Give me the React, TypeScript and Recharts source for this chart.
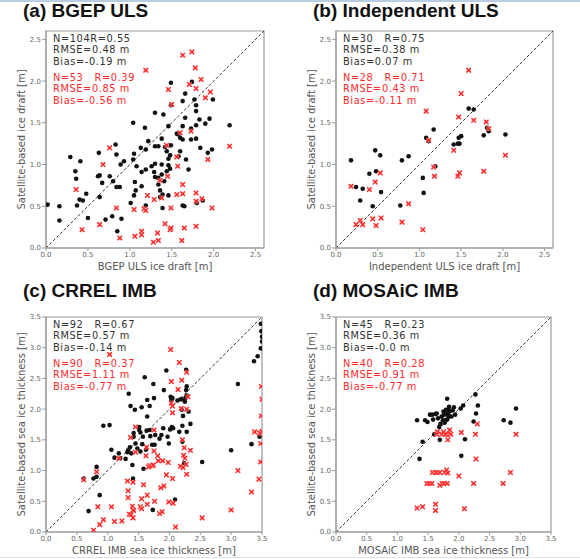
import React from 'react';
import { ScatterChart, Scatter, XAxis, YAxis, ReferenceLine, ReferenceArea } from 'recharts';

type P = [number, number];

// (a) BGEP ULS
const bgepBlack: P[] = [
  [0.02,0.52],[0.16,0.5],[0.16,0.33],[0.29,1.09],[0.35,0.92],[0.36,0.83],[0.37,0.51],[0.41,1.04],[0.4,0.58],[0.44,0.57],
  [0.48,0.65],[0.5,0.36],[0.63,1.14],[0.62,0.86],[0.64,0.87],[0.64,0.61],[0.67,0.78],[0.71,0.34],[0.76,0.86],[0.8,0.8],
  [0.79,0.38],[0.83,1.24],[0.84,1.12],[0.84,0.73],[0.88,0.73],[0.89,1.0],[0.9,0.35],[0.85,0.2],[0.93,1.04],[1.04,1.5],
  [1.04,1.06],[1.05,1.13],[1.01,0.54],[1.06,0.79],[1.07,0.69],[1.05,0.63],[1.08,0.98],[1.13,1.2],[1.14,0.91],[1.14,0.74],
  [1.18,1.44],[1.19,1.18],[1.19,0.94],[1.19,0.51],[1.22,1.28],[1.26,0.98],[1.29,0.91],[1.3,1.62],[1.3,1.22],[1.3,1.01],
  [1.3,0.85],[1.34,0.84],[1.34,0.76],[1.34,1.22],[1.36,0.69],[1.36,0.61],[1.39,0.64],[1.4,1.6],[1.38,1.31],[1.38,1.0],
  [1.38,0.88],[1.39,0.48],[1.41,0.8],[1.42,1.21],[1.44,1.16],[1.44,0.92],[1.46,1.07],[1.46,0.99],[1.46,0.63],[1.46,1.46],
  [1.49,1.98],[1.49,1.71],[1.48,1.11],[1.49,1.23],[1.48,0.95],[1.56,1.37],[1.58,1.36],[1.58,1.1],[1.6,1.16],[1.6,1.32],
  [1.63,1.76],[1.63,1.46],[1.63,1.3],[1.63,0.51],[1.65,0.5],[1.66,1.56],[1.66,1.85],[1.67,1.06],[1.7,0.94],[1.73,1.43],
  [1.73,1.3],[1.74,1.99],[1.77,1.78],[1.79,1.64],[1.79,1.71],[1.79,1.31],[1.8,0.54],[1.79,1.47],[1.83,1.54],[1.84,1.2],
  [1.87,0.57],[1.9,1.49],[1.93,1.14],[1.95,1.55],[1.98,1.18],[1.99,1.78],[2.19,1.47]
];
const bgepRed: P[] = [
  [0.36,0.7],[0.43,0.22],[0.64,0.28],[0.68,1.0],[0.76,1.2],[0.84,0.48],[0.88,0.12],[1.05,0.46],[1.06,0.14],[1.14,0.2],
  [1.14,0.16],[1.17,0.47],[1.19,0.45],[1.19,2.13],[1.21,0.63],[1.28,0.07],[1.29,0.58],[1.33,0.18],[1.34,0.09],[1.36,0.81],
  [1.38,0.6],[1.42,0.29],[1.44,1.23],[1.45,0.86],[1.46,1.9],[1.48,0.22],[1.49,0.24],[1.49,0.48],[1.5,1.72],[1.56,0.64],
  [1.57,0.98],[1.56,1.09],[1.6,1.38],[1.62,0.09],[1.63,0.76],[1.63,0.65],[1.63,2.31],[1.65,0.24],[1.71,1.96],[1.73,1.4],
  [1.74,2.35],[1.78,2.16],[1.79,1.91],[1.79,0.66],[1.79,0.56],[1.79,0.26],[1.85,2.02],[1.86,0.59],[1.9,1.8],[1.96,1.87],
  [1.93,1.06],[1.98,0.48],[2.19,1.22]
];

// (b) Independent ULS
const indepBlack: P[] = [
  [0.18,1.05],[0.24,0.73],[0.29,0.57],[0.32,0.71],[0.4,0.89],[0.44,0.5],[0.47,1.17],[0.48,0.92],[0.53,1.11],[0.54,0.67],
  [0.77,0.51],[0.79,1.05],[0.87,1.1],[1.04,0.84],[1.05,0.66],[1.08,1.32],[1.11,1.28],[1.17,1.42],[1.19,0.98],[1.41,1.24],
  [1.46,1.25],[1.48,1.25],[1.47,1.32],[1.5,1.34],[1.59,1.67],[1.65,1.66],[1.77,1.35],[1.81,1.44],[1.83,1.4],[2.03,1.36]
];
const indepRed: P[] = [
  [0.18,0.74],[0.24,0.28],[0.29,0.33],[0.32,0.28],[0.4,0.7],[0.44,0.35],[0.47,0.79],[0.48,0.27],[0.53,0.9],[0.54,0.36],
  [0.79,0.31],[0.87,0.53],[1.04,0.22],[1.08,1.64],[1.11,1.29],[1.17,0.97],[1.18,0.86],[1.41,1.17],[1.47,1.57],[1.46,0.86],
  [1.48,0.9],[1.5,1.85],[1.59,2.13],[1.65,1.53],[1.77,0.92],[1.8,1.51],[1.83,1.43],[2.03,1.11]
];

// (c) CRREL IMB
const crrelBlack: P[] = [
  [0.61,0.87],[0.69,0.34],[0.77,0.87],[0.82,1.06],[0.82,0.9],[0.87,0.6],[0.93,1.73],[1.03,1.74],[1.06,1.34],[1.11,1.21],
  [1.18,1.28],[1.2,1.2],[1.29,1.19],[1.32,1.3],[1.34,2.25],[1.33,1.33],[1.36,1.38],[1.37,2.05],[1.38,1.28],[1.4,1.09],
  [1.41,0.87],[1.42,1.61],[1.42,1.55],[1.44,1.99],[1.45,1.44],[1.51,1.71],[1.51,1.66],[1.53,1.62],[1.55,2.03],[1.57,1.55],
  [1.56,1.43],[1.58,1.03],[1.6,2.52],[1.62,1.34],[1.63,1.65],[1.64,2.15],[1.64,1.88],[1.68,2.05],[1.68,1.66],[1.69,1.56],
  [1.72,1.42],[1.73,0.36],[1.74,2.41],[1.75,2.18],[1.76,1.42],[1.84,1.52],[1.87,1.58],[1.9,1.69],[1.91,2.31],[1.95,2.63],
  [1.99,1.44],[2.01,1.67],[2.02,2.2],[2.03,2.15],[2.04,1.71],[2.06,1.69],[2.05,2.18],[2.09,0.53],[2.13,2.14],[2.16,1.63],
  [2.18,2.16],[2.2,1.99],[2.21,1.47],[2.2,2.16],[2.22,1.89],[2.24,1.12],[2.26,2.18],[2.27,2.64],[2.28,2.37],[2.27,2.31],
  [2.28,1.63],[2.28,2.22],[2.31,1.96],[2.34,1.76],[2.53,1.14],[3.0,1.33],[3.11,2.41],[3.33,1.43],[3.37,2.78],[3.43,2.86],
  [3.46,1.55],[3.48,2.99],[3.48,3.39],[3.49,3.27],[3.5,3.18],[3.5,3.1],[2.21,1.73],[1.48,1.36],[1.53,1.31],[1.77,1.58],
  [1.97,1.55],[2.25,2.12]
];
const crrelRed: P[] = [
  [0.61,0.85],[0.77,0.03],[0.82,0.98],[0.84,0.41],[0.87,0.12],[0.93,0.2],[1.03,2.89],[1.06,0.41],[1.11,0.17],[1.18,1.2],
  [1.23,0.18],[1.32,0.83],[1.33,0.67],[1.33,0.56],[1.35,0.29],[1.37,1.54],[1.38,0.28],[1.41,0.81],[1.4,0.42],[1.41,0.36],
  [1.41,0.23],[1.42,0.35],[1.45,1.71],[1.45,1.3],[1.53,0.41],[1.55,0.54],[1.55,0.38],[1.58,0.77],[1.62,1.24],[1.63,1.38],
  [1.64,0.6],[1.64,0.45],[1.66,1.06],[1.68,1.08],[1.72,1.08],[1.74,1.09],[1.75,1.66],[1.76,0.5],[1.75,1.32],[1.81,1.24],
  [1.82,1.16],[1.86,0.72],[1.84,0.3],[1.88,0.33],[1.89,1.16],[1.91,0.75],[1.95,0.93],[1.98,1.13],[1.99,0.49],[2.02,2.97],
  [2.03,2.45],[2.03,2.1],[2.05,2.05],[2.05,1.94],[2.05,0.87],[2.06,0.47],[2.1,0.08],[2.14,2.32],[2.16,2.76],[2.18,1.07],
  [2.19,2.01],[2.2,2.47],[2.21,1.5],[2.23,1.25],[2.22,1.05],[2.24,1.37],[2.25,1.2],[2.27,1.1],[2.28,2.6],[2.28,2.0],
  [2.28,0.94],[2.3,2.2],[2.34,1.33],[2.53,0.23],[3.0,0.36],[3.11,1.0],[3.33,0.65],[3.38,1.63],[3.45,0.86],[3.46,1.61],
  [3.48,1.61],[3.48,1.44],[3.48,1.14],[3.49,2.37],[3.5,2.16],[3.49,1.89],[3.5,1.64]
];

// (d) MOSAiC IMB
const mosaicBlack: P[] = [
  [1.32,1.82],[1.36,1.19],[1.41,1.47],[1.45,1.82],[1.49,1.79],[1.53,1.91],[1.57,1.91],[1.6,1.59],[1.62,1.92],[1.64,1.93],
  [1.66,1.85],[1.68,1.71],[1.69,1.5],[1.72,1.88],[1.74,1.82],[1.75,1.96],[1.76,1.91],[1.77,1.78],[1.79,1.99],[1.8,1.93],
  [1.81,1.83],[1.83,1.91],[1.81,2.17],[1.84,2.04],[1.86,1.97],[1.9,1.98],[1.94,1.91],[1.92,2.03],[1.83,1.99],[1.83,1.88],
  [2.03,2.01],[2.04,1.24],[2.07,2.06],[2.1,1.51],[2.24,1.8],[2.27,2.24],[2.28,1.93],[2.31,2.06],[2.73,1.82],[2.84,1.78],
  [2.93,2.01],[1.78,1.82],[1.7,1.76],[1.88,1.88],[1.58,1.83]
];
const mosaicRed: P[] = [
  [1.32,0.39],[1.41,0.41],[1.62,0.45],[1.62,0.35],[2.09,0.38],[1.48,0.79],[1.52,0.79],[1.56,0.79],[1.57,0.97],[1.62,0.97],
  [1.65,0.97],[1.69,0.97],[1.69,0.76],[1.73,0.79],[1.76,0.79],[1.77,0.97],[1.8,1.01],[1.81,0.79],[1.82,0.96],[2.0,0.91],
  [2.24,0.79],[2.72,0.79],[2.84,0.97],[2.28,1.19],[1.65,1.63],[1.72,1.59],[1.75,1.63],[1.79,1.59],[1.82,1.59],[1.82,1.5],
  [1.85,1.66],[1.87,1.59],[2.04,1.62],[2.27,1.59],[2.3,1.76],[2.93,1.59],[1.64,1.59],[1.78,1.59]
];

const ticksSmall = [0, 0.5, 1.0, 1.5, 2.0, 2.5];
const ticksLarge = [0, 0.5, 1.0, 1.5, 2.0, 2.5, 3.0, 3.5];

const titles = ['(a) BGEP ULS', '(b) Independent ULS', '(c) CRREL IMB', '(d) MOSAiC IMB'];
const xLabels = ['BGEP ULS ice draft [m]', 'Independent ULS ice draft [m]', 'CRREL IMB sea ice thickness [m]', 'MOSAiC IMB sea ice thickness [m]'];
const yLabels = ['Satellite-based ice draft [m]', 'Satellite-based ice draft [m]', 'Satellite-based sea ice thickness [m]', 'Satellite-based sea ice thickness [m]'];
const statsBlack = [
  ['N=104R=0.55', 'RMSE=0.48 m', 'Bias=-0.19 m'],
  ['N=30   R=0.75', 'RMSE=0.38 m', 'Bias=0.07 m'],
  ['N=92   R=0.67', 'RMSE=0.57 m', 'Bias=-0.14 m'],
  ['N=45   R=0.23', 'RMSE=0.36 m', 'Bias=-0.0 m'],
];
const statsRed = [
  ['N=53   R=0.39', 'RMSE=0.85 m', 'Bias=-0.56 m'],
  ['N=28   R=0.71', 'RMSE=0.43 m', 'Bias=-0.11 m'],
  ['N=90   R=0.37', 'RMSE=1.11 m', 'Bias=-0.77 m'],
  ['N=40   R=0.28', 'RMSE=0.91 m', 'Bias=-0.77 m'],
];

const toObj = (arr: P[]) => arr.map(([x, y]) => ({ x, y }));

const Dot = (props: any) => {
  const { cx, cy } = props;
  if (cx == null || cy == null) return null;
  return <circle cx={cx} cy={cy} r={2.3} fill="#111" />;
};

const Cross = (props: any) => {
  const { cx, cy } = props;
  if (cx == null || cy == null) return null;
  const s = 2.3;
  return (
    <g>
      <rect x={cx - s} y={cy - s} width={2 * s} height={2 * s} fill="#ffc0c0" opacity={0.6} />
      <line x1={cx - s} y1={cy - s} x2={cx + s} y2={cy + s} stroke="#ff2020" strokeWidth={1.3} />
      <line x1={cx - s} y1={cy + s} x2={cx + s} y2={cy - s} stroke="#ff2020" strokeWidth={1.3} />
    </g>
  );
};

const tickStyle = { fontSize: 7, fill: '#666', fontFamily: 'DejaVu Sans' };

interface PanelProps {
  left: number; top: number; max: number; ticks: number[];
  black: P[]; red: P[]; mTop: number; mRight: number; mBottom: number;
}

const Panel = ({ left, top, max, ticks, black, red, mTop, mRight, mBottom }: PanelProps) => (
  <div style={{ position: 'absolute', left, top }}>
    <ScatterChart width={290} height={280} margin={{ top: mTop, right: mRight, bottom: mBottom, left: 16 }}>
      <XAxis type="number" dataKey="x" domain={[0, max]} ticks={ticks} allowDataOverflow
        tickFormatter={(v: number) => v.toFixed(1)} tick={tickStyle} tickSize={3} tickMargin={1}
        stroke="#999" height={25} interval={0} />
      <YAxis type="number" dataKey="y" domain={[0, max]} ticks={ticks} allowDataOverflow
        tickFormatter={(v: number) => v.toFixed(1)} tick={tickStyle} tickSize={4} tickMargin={1}
        stroke="#999" width={30} interval={0} />
      <ReferenceArea x1={0} x2={max} y1={0} y2={max} fill="none" stroke="#999" strokeWidth={1.2} ifOverflow="visible" />
      <ReferenceLine segment={[{ x: 0, y: 0 }, { x: max, y: max }]} stroke="#333" strokeDasharray="3 2" strokeWidth={1} />
      <Scatter data={toObj(black)} shape={<Dot />} isAnimationActive={false} />
      <Scatter data={toObj(red)} shape={<Cross />} isAnimationActive={false} />
    </ScatterChart>
  </div>
);

const panelPos = [
  { left: 0, top: 0, plotL: 46, plotR: 264, plotT: 31, plotB: 248 },
  { left: 290, top: 0, plotL: 336, plotR: 553, plotT: 31, plotB: 248 },
  { left: 0, top: 280, plotL: 46, plotR: 262, plotT: 317, plotB: 532 },
  { left: 290, top: 280, plotL: 336, plotR: 551, plotT: 317, plotB: 532 },
];

export default function App() {
  const data = [
    [bgepBlack, bgepRed], [indepBlack, indepRed], [crrelBlack, crrelRed], [mosaicBlack, mosaicRed],
  ];
  return (
    <div style={{ position: 'fixed', left: 0, top: 0, width: 580, height: 559, background: '#fff', overflow: 'hidden' }}>
      <div style={{ position: 'absolute', left: 0, top: 0, width: 580, height: 2, background: '#b9cde2' }} />
      <div style={{ position: 'absolute', left: 0, top: 557, width: 580, height: 1, background: '#dde3ea' }} />
      {panelPos.map((p, i) => (
        <Panel key={i} left={p.left} top={p.top} max={i < 2 ? 2.6 : 3.5} ticks={i < 2 ? ticksSmall : ticksLarge}
          black={data[i][0]} red={data[i][1]}
          mTop={p.plotT - p.top} mRight={p.left + 290 - p.plotR} mBottom={p.top + 280 - p.plotB - 25} />
      ))}
      <svg width={580} height={559} style={{ position: 'absolute', left: 0, top: 0, pointerEvents: 'none' }}>
        {panelPos.map((p, i) => {
          const cx = (p.plotL + p.plotR) / 2;
          const cy = (p.plotT + p.plotB) / 2;
          const tx = p.plotL + 7;
          const base = p.plotT + 10.5;
          return (
            <g key={i}>
              <text x={p.left + 23} y={p.top + 17} fontFamily="Liberation Sans, Arial" fontWeight="bold" fontSize={19} fill="#111">{titles[i]}</text>
              <text x={cx} y={p.plotB + 22} textAnchor="middle" fontFamily="DejaVu Sans" fontSize={10} fill="#555">{xLabels[i]}</text>
              <text transform={`translate(${p.left + 25},${cy}) rotate(-90)`} textAnchor="middle" fontFamily="DejaVu Sans" fontSize={10} fill="#555">{yLabels[i]}</text>
              {statsBlack[i].map((s, j) => (
                <text key={'b' + j} x={tx} y={base + j * 11.5} fontFamily="DejaVu Sans" fontSize={9.8} letterSpacing={0.6} fill="#333" style={{ whiteSpace: 'pre' }}>{s}</text>
              ))}
              {statsRed[i].map((s, j) => (
                <text key={'r' + j} x={tx} y={base + 39 + j * 11.5} fontFamily="DejaVu Sans" fontSize={9.8} letterSpacing={0.6} fill="#ff2a2a" style={{ whiteSpace: 'pre' }}>{s}</text>
              ))}
            </g>
          );
        })}
      </svg>
    </div>
  );
}
